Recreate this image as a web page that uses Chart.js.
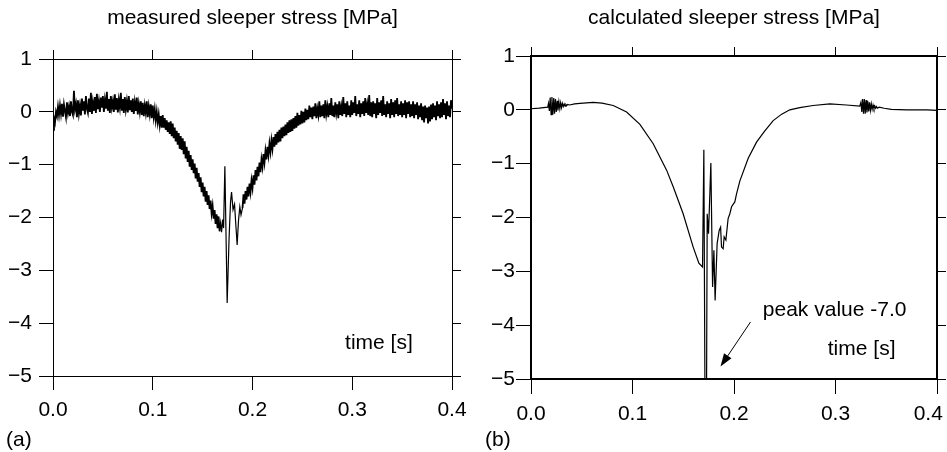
<!DOCTYPE html>
<html>
<head>
<meta charset="utf-8">
<script src="https://cdn.jsdelivr.net/npm/chart.js@4.4.1/dist/chart.umd.min.js"></script>
<style>
body { margin: 0; background: #fff; }
#wrap { position: relative; width: 947px; height: 452px; }
canvas { position: absolute; top: 0; }
</style>
</head>
<body>
<div id="wrap">
<canvas id="chartA" width="474" height="452" style="left:0"></canvas>
<canvas id="chartB" width="473" height="452" style="left:474px"></canvas>
</div>
<script>
// tick labels
const timeTicks = [0, 0.1, 0.2, 0.3, 0.4];
const stressTicks = [1, 0, -1, -2, -3, -4, -5];

// (a) measured stress, sampled every 1 ms from 0 to 0.167 s
const measStep = 0.001;
const measA = [
  -0.34, -0.12, -0.2, 0.0, -0.08, 0.1, -0.06, 0.12, -0.04, 0.15,
  -0.09, 0.14, 0.02, -0.1, 0.18, -0.02, 0.1, -0.08, 0.2, 0.0,
  -0.06, 0.4, 0.05, 0.15, -0.1, 0.22, -0.03, 0.12, -0.07, 0.25,
  0.02, 0.2, -0.05, 0.3, 0.06, -0.02, 0.25, 0.0, 0.36, -0.04,
  0.18, 0.02, 0.28, -0.02, 0.34, 0.05, 0.2, 0.0, 0.27, 0.08,
  0.3, 0.0, 0.22, 0.06, 0.38, 0.02, 0.24, -0.02, 0.3, 0.08,
  0.2, 0.0, 0.33, 0.04, 0.26, -0.01, 0.22, 0.08, 0.36, 0.02,
  0.24, -0.02, 0.28, 0.05, 0.2, -0.01, 0.3, 0.03, 0.22, 0.0,
  0.25, -0.04, 0.18, 0.02, 0.27, -0.05, 0.15, 0.0, 0.2, -0.06,
  0.17, -0.08, 0.12, -0.02, 0.2, -0.1, 0.1, -0.05, 0.14, -0.12,
  0.12, -0.1, 0.05, -0.16, 0.0, -0.2, -0.05, -0.25, -0.08, -0.3,
  -0.06, -0.3, -0.12, -0.34, -0.16, -0.38, -0.2, -0.42, -0.18, -0.46,
  -0.22, -0.5, -0.3, -0.56, -0.36, -0.62, -0.4, -0.7, -0.46, -0.72,
  -0.5, -0.8, -0.56, -0.88, -0.66, -0.95, -0.74, -1.04, -0.82, -1.1,
  -0.9, -1.16, -0.98, -1.26, -1.06, -1.32, -1.16, -1.42, -1.24, -1.52,
  -1.34, -1.6, -1.42, -1.7, -1.5, -1.76, -1.58, -1.84, -1.68, -1.92,
  -1.78, -2.02, -1.86, -2.12, -1.94, -2.2, -1.98, -2.26
];
// around the wheel impact (thin trace)
const measSpikeT = [0.167, 0.168, 0.169, 0.170, 0.171, 0.1723, 0.1746, 0.1765, 0.178, 0.179, 0.1805, 0.182, 0.1835, 0.1846, 0.186, 0.1873, 0.1885, 0.190];
const measSpikeV = [-2.26, -2.1, -2.28, -2.04, -2.2, -1.03, -3.62, -2.4, -1.7, -1.52, -1.85, -1.75, -2.2, -2.52, -2.05, -1.8, -1.95, -1.82];
// from 0.19 s to 0.4 s, every 1 ms
const measBStart = 0.19;
const measB = [
  -1.82, -1.56, -1.74, -1.5, -1.66, -1.42, -1.6, -1.36, -1.52, -1.3,
  -1.44, -1.2, -1.38, -1.1, -1.3, -1.04, -1.22, -0.96, -1.14, -0.9,
  -1.04, -0.8, -0.96, -0.74, -0.9, -0.66, -0.82, -0.6, -0.76, -0.54,
  -0.7, -0.48, -0.66, -0.42, -0.62, -0.38, -0.58, -0.34, -0.56, -0.3,
  -0.5, -0.28, -0.46, -0.24, -0.44, -0.2, -0.4, -0.16, -0.38, -0.14,
  -0.36, -0.12, -0.32, -0.08, -0.3, -0.02, -0.26, -0.06, -0.24, 0.02,
  -0.22, 0.0, -0.2, 0.06, -0.16, 0.04, -0.14, 0.12, -0.1, 0.08,
  -0.14, 0.1, -0.08, 0.16, -0.12, 0.06, -0.06, 0.2, -0.1, 0.12,
  -0.08, 0.14, -0.12, 0.22, -0.04, 0.1, -0.1, 0.16, -0.06, 0.26,
  -0.08, 0.12, -0.1, 0.18, -0.02, 0.14, -0.12, 0.2, -0.06, 0.1,
  -0.08, 0.28, -0.04, 0.16, -0.1, 0.2, -0.06, 0.12, -0.1, 0.22,
  -0.06, 0.18, -0.02, 0.3, -0.08, 0.14, -0.04, 0.22, -0.1, 0.16,
  -0.04, 0.2, -0.08, 0.26, -0.02, 0.14, -0.06, 0.32, -0.08, 0.18,
  -0.1, 0.2, -0.04, 0.16, -0.12, 0.26, -0.06, 0.18, -0.02, 0.22,
  -0.08, 0.3, -0.06, 0.14, -0.1, 0.2, -0.04, 0.16, -0.12, 0.24,
  -0.06, 0.18, -0.1, 0.22, -0.04, 0.26, -0.08, 0.14, -0.06, 0.2,
  -0.1, 0.16, -0.06, 0.22, -0.12, 0.18, -0.04, 0.2, -0.1, 0.14,
  -0.08, 0.2, -0.12, 0.14, -0.06, 0.18, -0.14, 0.12, -0.1, 0.16,
  -0.16, 0.1, -0.2, 0.12, -0.12, 0.08, -0.22, 0.1, -0.18, 0.14,
  -0.14, 0.16, -0.1, 0.12, -0.16, 0.2, -0.08, 0.14, -0.12, 0.18,
  -0.1, 0.24, -0.06, 0.16, -0.14, 0.2, -0.08, 0.12, -0.1, 0.22,
  0.06
];

// (b) calculated stress
const calcT = [
  0.000, 0.008, 0.0165,
  0.0172, 0.0181, 0.0189, 0.0198, 0.0206, 0.0215, 0.0224, 0.0232, 0.0241, 0.0249,
  0.0258, 0.0266, 0.0275, 0.0284, 0.0292, 0.0301, 0.0309, 0.0318, 0.0327, 0.0335,
  0.0344, 0.0352, 0.0361, 0.038, 0.043, 0.0482, 0.0613, 0.070, 0.0810, 0.0942,
  0.1073, 0.1204, 0.1336, 0.1401, 0.1499, 0.1598, 0.1654, 0.1690,
  0.1703, 0.1718, 0.1726, 0.1736, 0.1749, 0.1772, 0.1789, 0.1802, 0.1814, 0.1834,
  0.1854, 0.1868, 0.1877, 0.1893, 0.1903, 0.1920, 0.1942, 0.1959, 0.1976, 0.2008,
  0.2025, 0.2058, 0.2140, 0.2222, 0.2300, 0.2386, 0.2470, 0.2550, 0.2648, 0.2779,
  0.2944, 0.3108, 0.3239,
  0.3250, 0.3259, 0.3267, 0.3276, 0.3284, 0.3293, 0.3301, 0.3310, 0.3319, 0.3327,
  0.3336, 0.3344, 0.3353, 0.3361, 0.3370, 0.3379, 0.3387, 0.3396, 0.3404, 0.3413,
  0.3430, 0.3480, 0.3550, 0.3700, 0.3900, 0.4000
];
const calcV = [
  0.02, 0.03, 0.05,
  0.12, -0.02, 0.23, -0.09, 0.24, -0.09, 0.22, -0.07, 0.2, -0.04,
  0.17, -0.01, 0.15, 0.02, 0.13, 0.04, 0.12, 0.06, 0.11, 0.07,
  0.1, 0.08, 0.1, 0.09, 0.11, 0.12, 0.14, 0.125, 0.08, -0.04,
  -0.27, -0.63, -1.12, -1.43, -1.93, -2.55, -2.85, -2.92,
  -0.74, -7.0, -7.0, -1.93, -2.3, -0.99, -3.29, -2.61, -3.54, -2.48,
  -2.24, -2.18, -2.55, -2.58, -2.36, -2.42, -2.02, -1.93, -1.8, -1.71,
  -1.56, -1.32, -0.9, -0.6, -0.4, -0.2, -0.08, 0.0, 0.04, 0.08,
  0.11, 0.09, 0.07,
  0.14, -0.04, 0.2, -0.07, 0.2, -0.07, 0.18, -0.05, 0.16, -0.03,
  0.14, -0.01, 0.11, 0.01, 0.09, 0.02, 0.07, 0.03, 0.06, 0.03,
  0.05, 0.03, 0.01, 0.0, 0.0, -0.01
];

const FONT = "'Liberation Sans', Arial, Helvetica, sans-serif";
Chart.defaults.font.family = FONT;
Chart.defaults.font.size = 21;
Chart.defaults.color = '#000';

const bandA = measA.map((v, i) => ({x: +(i * measStep).toFixed(4), y: v}));
const spike = measSpikeT.map((t, i) => ({x: t, y: measSpikeV[i]}));
const bandB = measB.map((v, i) => ({x: +(measBStart + i * measStep).toFixed(4), y: v}));
const calcPts = calcT.map((t, i) => ({x: t, y: calcV[i]}));

function minus(v) {
  return v < 0 ? '\u2212' + Math.abs(v) : String(v);
}

function trace(pts, lw) {
  return {data: pts, borderColor: '#000', borderWidth: lw, pointRadius: 0, tension: 0, fill: false};
}

// text and arrows placed in data coordinates (or canvas pixels when px is set)
const notesPlugin = {
  id: 'notes',
  afterDraw(chart, args, opts) {
    const ctx = chart.ctx;
    const xs = chart.scales.x, ys = chart.scales.y;
    ctx.save();
    ctx.fillStyle = '#000';
    ctx.strokeStyle = '#000';
    ctx.font = '21px ' + FONT;
    ctx.textBaseline = 'middle';
    ctx.textAlign = 'left';
    (opts.texts || []).forEach(n => {
      const x = n.px ? n.x : xs.getPixelForValue(n.x);
      const y = n.px ? n.y : ys.getPixelForValue(n.y);
      ctx.fillText(n.text, x, y);
    });
    (opts.arrows || []).forEach(a => {
      const x1 = xs.getPixelForValue(a.from[0]), y1 = ys.getPixelForValue(a.from[1]);
      const x2 = xs.getPixelForValue(a.to[0]), y2 = ys.getPixelForValue(a.to[1]);
      const ang = Math.atan2(y2 - y1, x2 - x1);
      const hl = 13, hw = 4.5;
      ctx.lineWidth = 1;
      ctx.beginPath();
      ctx.moveTo(x1, y1);
      ctx.lineTo(x2 - hl * Math.cos(ang), y2 - hl * Math.sin(ang));
      ctx.stroke();
      ctx.beginPath();
      ctx.moveTo(x2, y2);
      ctx.lineTo(x2 - hl * Math.cos(ang) + hw * Math.sin(ang), y2 - hl * Math.sin(ang) - hw * Math.cos(ang));
      ctx.lineTo(x2 - hl * Math.cos(ang) - hw * Math.sin(ang), y2 - hl * Math.sin(ang) + hw * Math.cos(ang));
      ctx.closePath();
      ctx.fill();
    });
    ctx.restore();
  }
};

function panel(id, datasets, o) {
  const axisLine = {color: '#000', width: o.frame};
  const tickGrid = len => ({drawOnChartArea: false, color: '#000', lineWidth: 1, tickLength: len});
  return new Chart(document.getElementById(id), {
    type: 'line',
    data: {datasets: datasets},
    options: {
      responsive: false,
      animation: false,
      layout: {padding: 0},
      plugins: {
        legend: {display: false},
        tooltip: {enabled: false},
        notes: {texts: o.texts, arrows: o.arrows}
      },
      scales: {
        x: {
          type: 'linear', position: 'bottom', min: 0, max: 0.4,
          afterBuildTicks: s => { s.ticks = timeTicks.map(v => ({value: v})); },
          ticks: {callback: o.xLabel, padding: 8, maxRotation: 0, autoSkip: false},
          grid: tickGrid(o.tickBottom),
          border: axisLine,
          afterFit: s => { s.height = o.bottomH; s.paddingLeft = 0; s.paddingRight = 0; }
        },
        x2: {
          type: 'linear', position: 'top', min: 0, max: 0.4,
          afterBuildTicks: s => { s.ticks = timeTicks.map(v => ({value: v})); },
          ticks: {display: false},
          grid: tickGrid(9),
          border: axisLine,
          title: {display: true, text: o.title, font: {size: 21}, padding: {top: 6, bottom: 0}},
          afterFit: s => { s.height = o.topH; s.paddingLeft = 0; s.paddingRight = 0; }
        },
        y: {
          min: -5, max: 1,
          afterBuildTicks: s => { s.ticks = stressTicks.map(v => ({value: v})); },
          ticks: {callback: minus, padding: o.yPad},
          grid: tickGrid(o.tickLeft),
          border: axisLine,
          afterFit: s => { s.width = o.leftW; s.paddingTop = 0; s.paddingBottom = 0; }
        },
        y2: {
          position: 'right', min: -5, max: 1,
          afterBuildTicks: s => { s.ticks = stressTicks.map(v => ({value: v})); },
          ticks: {display: false},
          grid: tickGrid(9),
          border: axisLine,
          afterFit: s => { s.width = o.rightW; s.paddingTop = 0; s.paddingBottom = 0; }
        }
      }
    },
    plugins: [notesPlugin]
  });
}

panel('chartA', [trace(bandA, 1.8), trace(spike, 1.2), trace(bandB, 1.8)], {
  title: 'measured sleeper stress [MPa]',
  frame: 1,
  leftW: 53, rightW: 22, topH: 59, bottomH: 76,
  tickLeft: 14, tickBottom: 14, yPad: 7,
  xLabel: v => v.toFixed(1),
  texts: [
    {text: 'time [s]', x: 0.2928, y: -4.37},
    {text: '(a)', x: 6, y: 440, px: true}
  ],
  arrows: []
});

panel('chartB', [trace(calcPts, 1.2)], {
  title: 'calculated sleeper stress [MPa]',
  frame: 2,
  leftW: 57, rightW: 10, topH: 56, bottomH: 73,
  tickLeft: 15, tickBottom: 15, yPad: 1,
  xLabel: v => Math.abs(v - 0.4) < 1e-9 ? '0.4\u00a0\u00a0\u00a0' : v.toFixed(1),
  texts: [
    {text: 'peak value -7.0', x: 0.2284, y: -3.72},
    {text: 'time [s]', x: 0.2924, y: -4.45},
    {text: '(b)', x: 11, y: 440, px: true}
  ],
  arrows: [
    {from: [0.2163, -3.94], to: [0.1867, -4.77]}
  ]
});
</script>
</body>
</html>
